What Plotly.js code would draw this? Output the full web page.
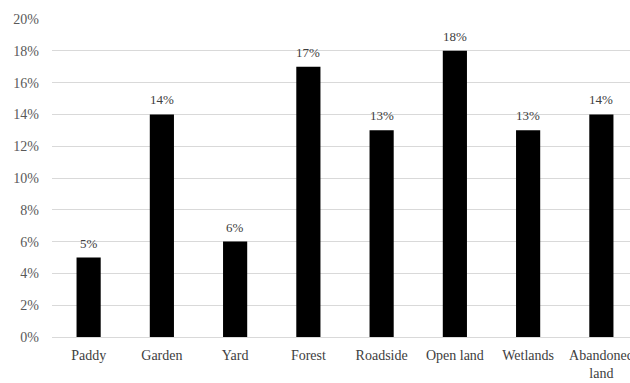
<!DOCTYPE html>
<html><head><meta charset="utf-8">
<script src="https://cdn.plot.ly/plotly-3.0.1.min.js"></script>
<style>html,body{margin:0;padding:0;overflow:hidden;background:#fff;width:630px;height:383px}</style>
</head><body>
<div id="chart"></div>
<script>
const categories = ["Paddy","Garden","Yard","Forest","Roadside","Open land","Wetlands","Abandoned<br>land"];
const values = [0.05,0.14,0.06,0.17,0.13,0.18,0.13,0.14];
const labels = ["5%","14%","6%","17%","13%","18%","13%","14%"];
const yTicks = [0,0.02,0.04,0.06,0.08,0.10,0.12,0.14,0.16,0.18,0.20];
const yTickText = ["0%","2%","4%","6%","8%","10%","12%","14%","16%","18%","20%"];
const FONT = "'Liberation Serif', 'Times New Roman', serif";

const annotations = categories.map((c, i) => ({
  x: c, y: values[i], text: labels[i], showarrow: false,
  xref: 'x', yref: 'y', yanchor: 'bottom', yshift: 5,
  font: {family: FONT, size: 13, color: '#404040'}
}));

Plotly.newPlot('chart', [{
  type:'bar', x:categories, y:values,
  marker:{color:'#000000'}, hoverinfo:'none'
}], {
  width:638, height:383,
  margin:{l:52, r:0, t:19, b:46},
  bargap:0.67,
  paper_bgcolor:'#fff', plot_bgcolor:'#fff',
  font:{family:FONT, size:14, color:'#595959'},
  annotations: annotations,
  xaxis:{showgrid:false, showline:true, linecolor:'#d9d9d9', linewidth:1, ticks:'', ticklabelstandoff:5,
         tickfont:{family:FONT, size:14, color:'#404040'}},
  yaxis:{range:[0,0.20], tickvals:yTicks, ticktext:yTickText, showgrid:true, gridcolor:'#d9d9d9', gridwidth:1,
         zeroline:false, showline:false, ticks:'', ticklabelstandoff:12, tickfont:{family:FONT, size:14, color:'#595959'}},
  showlegend:false
}, {staticPlot:true});
</script>
</body></html>
